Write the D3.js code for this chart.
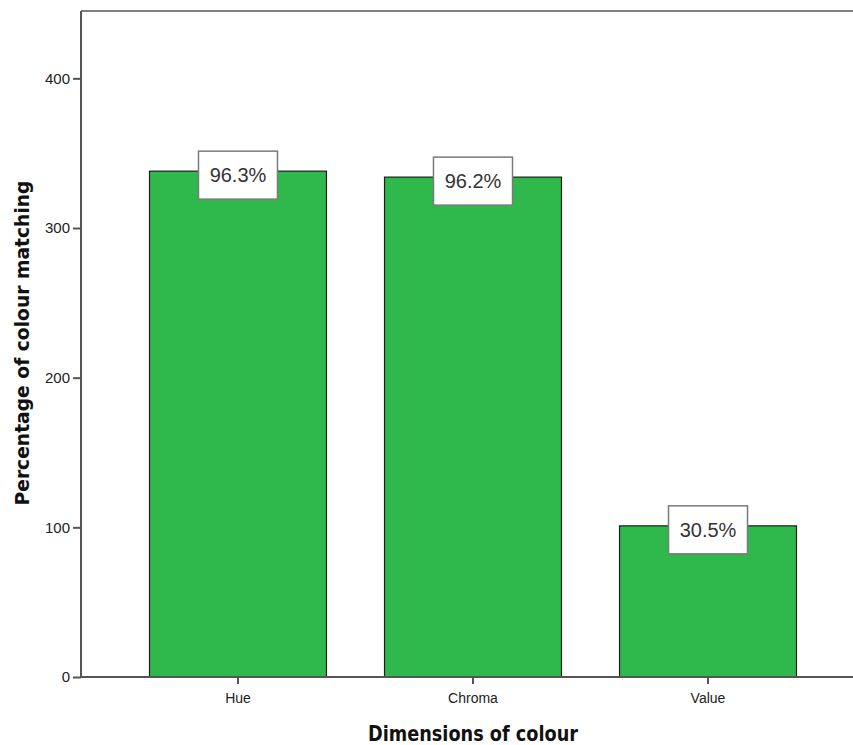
<!DOCTYPE html>
<html>
<head>
<meta charset="utf-8">
<script src="https://cdn.jsdelivr.net/npm/d3@7"></script>
<style>
  html, body { margin: 0; padding: 0; background: #fff; }
  svg { display: block; }
</style>
</head>
<body>
<svg id="chart" width="853" height="745"></svg>
<script>
// Counts of matching cases per colour dimension, with their percentage labels
const categories = ["Hue", "Chroma", "Value"];
const counts = [338, 334, 101];
const percentLabels = ["96.3%", "96.2%", "30.5%"];
const yTicks = [0, 100, 200, 300, 400];

const svg = d3.select("#chart");
const plotLeft = 81, plotTop = 11, plotRight = 865, plotBottom = 677;

const x = d3.scaleBand()
  .domain(categories)
  .range([plotLeft, plotRight])
  .paddingInner(0.247)
  .paddingOuter(0.2915);

const y = d3.scaleLinear()
  .domain([0, 445])
  .range([plotBottom, plotTop]);

const axisColor = "#555";
const labelFont = "'Liberation Sans', Arial, sans-serif";
const titleFont = "'DejaVu Sans Condensed', 'DejaVu Sans', Verdana, sans-serif";

// plot frame (top and right edges)
svg.append("path")
  .attr("d", `M${plotLeft},${plotTop}H${plotRight}V${plotBottom}`)
  .attr("fill", "none")
  .attr("stroke", "#808080")
  .attr("stroke-width", 2);

// bars
svg.append("g").selectAll("rect")
  .data(categories)
  .join("rect")
  .attr("x", d => x(d))
  .attr("width", x.bandwidth())
  .attr("y", (d, i) => y(counts[i]))
  .attr("height", (d, i) => y(0) - y(counts[i]))
  .attr("fill", "#2fb84b")
  .attr("stroke", "#1e1e1e")
  .attr("stroke-width", 1.2);

// y axis
const yAxis = svg.append("g")
  .attr("transform", `translate(${plotLeft},0)`)
  .call(d3.axisLeft(y).tickValues(yTicks).tickSize(8).tickSizeOuter(0).tickPadding(3));
yAxis.select(".domain").remove();
yAxis.append("line")
  .attr("x1", 0).attr("x2", 0).attr("y1", plotTop).attr("y2", plotBottom + 1)
  .attr("stroke", axisColor).attr("stroke-width", 2);
yAxis.selectAll(".tick line").attr("stroke", axisColor).attr("stroke-width", 2);
yAxis.selectAll(".tick text")
  .attr("fill", "#222")
  .style("font-family", labelFont)
  .style("font-size", "15px");

// x axis
const xAxis = svg.append("g")
  .attr("transform", `translate(0,${plotBottom})`)
  .call(d3.axisBottom(x).tickSize(7).tickSizeOuter(0).tickPadding(9));
xAxis.select(".domain").remove();
xAxis.append("line")
  .attr("x1", plotLeft - 1).attr("x2", plotRight).attr("y1", 0).attr("y2", 0)
  .attr("stroke", axisColor).attr("stroke-width", 2);
xAxis.selectAll(".tick line").attr("stroke", axisColor).attr("stroke-width", 2);
xAxis.selectAll(".tick text")
  .attr("fill", "#222")
  .style("font-family", labelFont)
  .style("font-size", "14px");

// percentage label boxes centred on each bar top
const boxW = 79, boxH = 48;
const labels = svg.append("g").selectAll("g")
  .data(categories)
  .join("g")
  .attr("transform", (d, i) =>
    `translate(${x(d) + x.bandwidth() / 2},${y(counts[i]) + 4})`);
labels.append("rect")
  .attr("x", -boxW / 2).attr("y", -boxH / 2)
  .attr("width", boxW).attr("height", boxH)
  .attr("fill", "#fff")
  .attr("stroke", "#7a7a7a")
  .attr("stroke-width", 1.5);
labels.append("text")
  .attr("text-anchor", "middle")
  .attr("dy", "0.36em")
  .attr("fill", "#333")
  .style("font-family", labelFont)
  .style("font-size", "20px")
  .text((d, i) => percentLabels[i]);

// axis titles
svg.append("text")
  .attr("x", 473).attr("y", 741)
  .attr("text-anchor", "middle")
  .attr("textLength", 210)
  .attr("lengthAdjust", "spacingAndGlyphs")
  .attr("fill", "#111")
  .style("font-family", titleFont)
  .style("font-weight", "bold")
  .style("font-size", "21px")
  .text("Dimensions of colour");

svg.append("text")
  .attr("transform", "translate(29,343) rotate(-90)")
  .attr("text-anchor", "middle")
  .attr("textLength", 325)
  .attr("lengthAdjust", "spacingAndGlyphs")
  .attr("fill", "#111")
  .style("font-family", titleFont)
  .style("font-weight", "bold")
  .style("font-size", "20px")
  .text("Percentage of colour matching");
</script>
</body>
</html>
